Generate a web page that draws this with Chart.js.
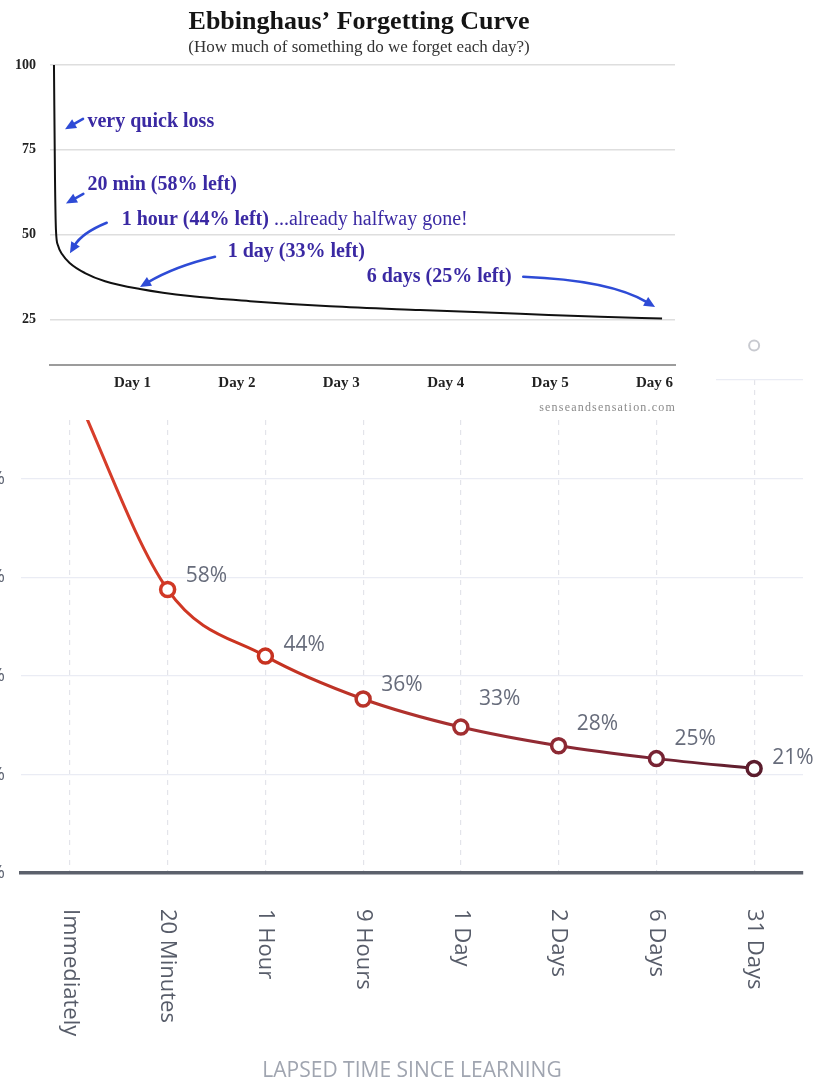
<!DOCTYPE html>
<html><head><meta charset="utf-8">
<script src="https://cdn.jsdelivr.net/npm/chart.js@4.4.0/dist/chart.umd.min.js"></script>
<style>
html,body{margin:0;padding:0;background:#fff;width:822px;height:1079px;overflow:hidden;position:relative}
#bottomWrap{position:absolute;left:-50px;top:0;width:872px;height:1079px}
#topWrap{position:absolute;left:0;top:0;width:716px;height:420px;background:#fff;z-index:2}
canvas{display:block}
</style></head><body>
<div id="bottomWrap"><canvas id="bottom" width="872" height="1079"></canvas></div>
<div id="topWrap"><canvas id="top" width="716" height="420"></canvas></div>
<script>
// ---------- Top chart (Ebbinghaus' Forgetting Curve) ----------
const topTitle = "Ebbinghaus\u2019 Forgetting Curve";
const topSubtitle = "(How much of something do we forget each day?)";
const topDays      = [0.248, 0.258, 0.267, 0.286, 0.325, 0.401, 0.545, 0.737, 1.072, 1.551, 2.126, 2.892, 3.754, 4.712, 5.478, 6.072];
const topRetention = [100, 66.1, 51.4, 46.9, 44.3, 41.6, 38.7, 36.3, 34.0, 31.9, 30.4, 28.9, 27.8, 26.7, 25.8, 25.3];
const topTickDays = [1, 2, 3, 4, 5, 6];
const topYTicks = [25, 50, 75, 100];
const noteTexts  = ["very quick loss", "20 min (58% left)", "1 hour (44% left)", "1 day (33% left)", "6 days (25% left)"];
const noteSuffix = ["", "", " ...already halfway gone!", "", ""];
const watermark = "senseandsensation.com";

// ---------- Bottom chart ----------
const lapseLabels = ["Immediately", "20 Minutes", "1 Hour", "9 Hours", "1 Day", "2 Days", "6 Days", "31 Days"];
const retainedValues = [100, 57.5, 44, 35.3, 29.6, 25.8, 23.2, 21.2];
const labelValues = [100, 58, 44, 36, 33, 28, 25, 21];
const ghostValues = [null, null, null, null, null, null, null, 107];
const bottomYTicks = [0, 20, 40, 60, 80, 100];
const bottomAxisTitle = "LAPSED TIME SINCE LEARNING";

// ---- annotation layout (in data space of the top chart) ----
const noteLayout = [
  {text:[0.569, 83.3], tail:[0.526, 84.1], tip:[0.354, 81.1]},
  {text:[0.569, 64.6], tail:[0.529, 62.0], tip:[0.363, 59.2]},
  {text:[0.897, 54.5], tail:[0.753, 53.5], ctrl:[0.516, 50.5], tip:[0.401, 44.5]},
  {text:[1.912, 45.0], tail:[1.790, 43.5], ctrl:[1.408, 40.7], tip:[1.072, 34.6]},
  {text:[3.243, 37.6], tail:[4.743, 37.6], ctrl:[5.574, 36.6], tip:[6.005, 28.7]}
];

const topNotes = {
  id: 'topNotes',
  afterDraw(chart) {
    const ctx = chart.ctx, xs = chart.scales.x, ys = chart.scales.y;
    const P = (p) => [xs.getPixelForValue(p[0]), ys.getPixelForValue(p[1])];
    ctx.save();
    ctx.textAlign = 'center'; ctx.textBaseline = 'middle';
    ctx.fillStyle = '#141414';
    ctx.font = 'bold 26px "Liberation Serif"';
    ctx.fillText(topTitle, 359, 22);
    ctx.fillStyle = '#333';
    ctx.font = '17px "Liberation Serif"';
    ctx.fillText(topSubtitle, 359, 48);

    noteLayout.forEach((n, i) => {
      const [tx, ty] = P(n.text);
      ctx.textAlign = 'left';
      ctx.fillStyle = '#3a29a3';
      ctx.font = 'bold 20px "Liberation Serif"';
      ctx.fillText(noteTexts[i], tx, ty);
      if (noteSuffix[i]) {
        const w = ctx.measureText(noteTexts[i]).width;
        ctx.font = '20px "Liberation Serif"';
        ctx.fillText(noteSuffix[i], tx + w, ty);
      }
      const a = P(n.tail), b = P(n.tip);
      const c = n.ctrl ? P(n.ctrl) : [(a[0] + b[0]) / 2, (a[1] + b[1]) / 2];
      ctx.strokeStyle = '#2e4bd6'; ctx.fillStyle = '#2e4bd6';
      ctx.lineWidth = 2.6; ctx.lineCap = 'round';
      const ang = Math.atan2(b[1] - c[1], b[0] - c[0]);
      const hl = 11, hw = 5;
      const bx = b[0] - Math.cos(ang) * (hl - 2), by = b[1] - Math.sin(ang) * (hl - 2);
      ctx.beginPath();
      ctx.moveTo(a[0], a[1]);
      ctx.quadraticCurveTo(c[0], c[1], bx, by);
      ctx.stroke();
      ctx.beginPath();
      ctx.moveTo(b[0], b[1]);
      ctx.lineTo(b[0] - Math.cos(ang) * hl - Math.sin(ang) * hw, b[1] - Math.sin(ang) * hl + Math.cos(ang) * hw);
      ctx.lineTo(b[0] - Math.cos(ang) * hl + Math.sin(ang) * hw, b[1] - Math.sin(ang) * hl - Math.cos(ang) * hw);
      ctx.closePath();
      ctx.fill();
    });

    ctx.textAlign = 'right';
    ctx.fillStyle = '#8a8a8a';
    ctx.font = '12px "Liberation Serif"';
    try { ctx.letterSpacing = '1.2px'; } catch (e) {}
    ctx.fillText(watermark, 676, 408);
    ctx.restore();
  }
};

new Chart(document.getElementById('top'), {
  type: 'line',
  data: { datasets: [{
    data: topDays.map((d, i) => ({x: d, y: topRetention[i]})),
    borderColor: '#111', borderWidth: 2, pointRadius: 0,
    cubicInterpolationMode: 'monotone', fill: false
  }]},
  options: {
    responsive: false, animation: false, devicePixelRatio: 1,
    layout: { padding: { top: 65, right: 41, left: 0, bottom: 0 } },
    plugins: { legend: { display: false }, tooltip: { enabled: false }, title: {display:false} },
    scales: {
      x: {
        type: 'linear', min: 0.21, max: 6.196,
        afterBuildTicks(s) { s.ticks = topTickDays.map(v => ({value: v})); },
        afterFit(s) { s.height = 55; },
        ticks: { autoSkip: false, maxRotation: 0, padding: 1, color: '#222',
                 font: { family: 'Liberation Serif', size: 15, weight: 'bold' },
                 callback: v => 'Day ' + v },
        grid: { display: false },
        border: { color: '#9c9c9c', width: 2 }
      },
      y: {
        min: 11.6, max: 100,
        afterBuildTicks(s) { s.ticks = topYTicks.map(v => ({value: v})); },
        afterFit(s) { s.width = 50; },
        ticks: { padding: 14, color: '#222', font: { family: 'Liberation Serif', size: 14, weight: 'bold' } },
        grid: { color: '#dedede', lineWidth: 1.5, drawTicks: false },
        border: { display: false }
      }
    }
  },
  plugins: [topNotes]
});

// ---------- Bottom chart ----------
let grad = null, gradKey = '';
function lineGradient(chart) {
  const a = chart.chartArea;
  if (!a) return '#c0392b';
  const key = a.left + ',' + a.right;
  if (!grad || gradKey !== key) {
    grad = chart.ctx.createLinearGradient(a.left, 0, a.right, 0);
    grad.addColorStop(0, '#de4330');
    grad.addColorStop(0.3, '#c9321f');
    grad.addColorStop(0.45, '#b8332a');
    grad.addColorStop(0.6, '#9b2d33');
    grad.addColorStop(0.8, '#7a2434');
    grad.addColorStop(1, '#4e1a2a');
    gradKey = key;
  }
  return grad;
}

const bottomText = {
  id: 'bottomText',
  afterDatasetsDraw(chart) {
    const ctx = chart.ctx, area = chart.chartArea;
    const xs = chart.scales.x, ys = chart.scales.y;
    const meta = chart.getDatasetMeta(0);
    ctx.save();
    // faint hover marker from the ghost series (sits above the plot area)
    ghostValues.forEach((v, i) => {
      if (v == null) return;
      ctx.beginPath();
      ctx.arc(xs.getPixelForValue(i), ys.getPixelForValue(v), 5, 0, Math.PI * 2);
      ctx.fillStyle = '#fff'; ctx.fill();
      ctx.lineWidth = 2; ctx.strokeStyle = '#c8cad0'; ctx.stroke();
    });
    ctx.font = '21px "Open Sans"'; ctx.fillStyle = '#676c7b';
    ctx.textAlign = 'left'; ctx.textBaseline = 'middle';
    labelValues.forEach((v, i) => {
      const p = meta.data[i];
      ctx.fillText(v + '%', p.x + 18, ys.getPixelForValue(v) - 11);
    });
    ctx.font = '22px "Open Sans"'; ctx.fillStyle = '#575c69';
    lapseLabels.forEach((l, i) => {
      const x = xs.getPixelForValue(i);
      ctx.save();
      ctx.translate(x, area.bottom + 36);
      ctx.rotate(Math.PI / 2);
      ctx.textAlign = 'left'; ctx.textBaseline = 'middle';
      ctx.fillText(l, 0, 0);
      ctx.restore();
    });
    ctx.font = '21px "Open Sans"'; ctx.fillStyle = '#a0a5b0';
    ctx.textAlign = 'center';
    ctx.fillText(bottomAxisTitle, (area.left + area.right) / 2, area.bottom + 198);
    ctx.restore();
  }
};

new Chart(document.getElementById('bottom'), {
  type: 'line',
  data: {
    labels: lapseLabels,
    datasets: [{
      data: retainedValues,
      borderColor: (c) => lineGradient(c.chart),
      pointBorderColor: (c) => lineGradient(c.chart),
      pointBackgroundColor: '#fff',
      pointRadius: 7, pointBorderWidth: 3.5, borderWidth: 3,
      cubicInterpolationMode: 'monotone', fill: false
    }]
  },
  options: {
    responsive: false, animation: false, devicePixelRatio: 1,
    layout: { padding: { top: 380, right: 19, left: 0, bottom: 0 } },
    plugins: { legend: { display: false }, tooltip: { enabled: false } },
    scales: {
      x: {
        offset: true,
        ticks: { display: false },
        afterFit(s) { s.height = 206; },
        grid: { offset: false, color: '#e3e4ea', lineWidth: 1.2, drawTicks: false },
        border: { display: true, color: '#5c616c', width: 3.5, dash: [5, 5] }
      },
      y: {
        min: 0, max: 100,
        afterBuildTicks(s) { s.ticks = bottomYTicks.map(v => ({value: v})); },
        afterFit(s) { s.width = 71; },
        ticks: { padding: 16, color: '#5b6170', font: { family: 'Open Sans', size: 18 }, callback: v => v + '%' },
        grid: { color: '#eaecf4', lineWidth: 1.2, drawTicks: false },
        border: { display: false }
      }
    }
  },
  plugins: [bottomText]
});
</script>
</body></html>
